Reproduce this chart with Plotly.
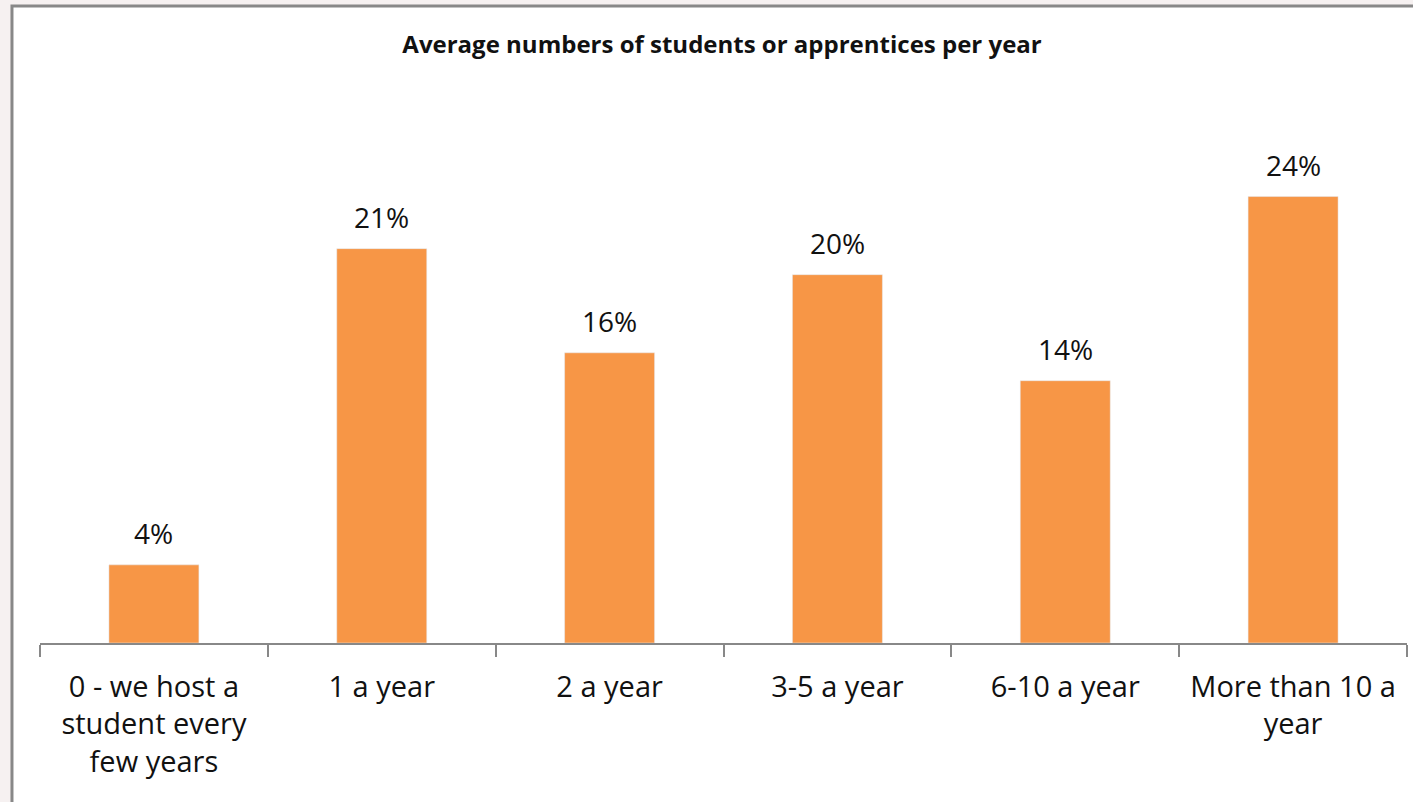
import plotly.graph_objects as go

categories = ["0 - we host a<br>student every<br>few years", "1 a year", "2 a year",
              "3-5 a year", "6-10 a year", "More than 10 a<br>year"]
values = [4.2, 21.2, 15.6, 19.8, 14.1, 24.0]
labels = ["4%", "21%", "16%", "20%", "14%", "24%"]

BAR = "#F79646"
AX = "#888888"
FONT = "Open Sans"

fig = go.Figure()
fig.add_trace(go.Bar(x=categories, y=values, marker_color=BAR, width=0.395,
                     hoverinfo="skip"))

for c, v, t in zip(categories, values, labels):
    fig.add_annotation(x=c, y=v, text=t, showarrow=False, yanchor="bottom",
                       yshift=11, font=dict(family=FONT, size=28, color="#111111"))

# outer frame
fig.add_shape(type="rect", xref="paper", yref="paper", x0=-0.0205, x1=1.05,
              y0=-0.5, y1=1.173, line=dict(color=AX, width=3), fillcolor="white",
              layer="below")

fig.update_layout(
    width=1413, height=802,
    margin=dict(l=40, r=6, t=100, b=159),
    paper_bgcolor="#f6f1f1", plot_bgcolor="rgba(0,0,0,0)",
    showlegend=False,
    title=dict(text="<b>Average numbers of students or apprentices per year</b>",
               x=0.511, xanchor="center", y=1 - 45 / 802, yanchor="middle",
               yref="container",
               font=dict(family=FONT, size=24, color="#111111")),
    xaxis=dict(showline=True, linecolor=AX, linewidth=1.5, ticks="outside",
               tickson="boundaries", ticklen=12, tickcolor=AX, tickwidth=1.5,
               ticklabelstandoff=17,
               tickfont=dict(family=FONT, size=29, color="#111111"),
               showgrid=False),
    yaxis=dict(range=[0, 29.19], visible=False, showgrid=False, zeroline=False),
)

fig.write_html("out.html")
